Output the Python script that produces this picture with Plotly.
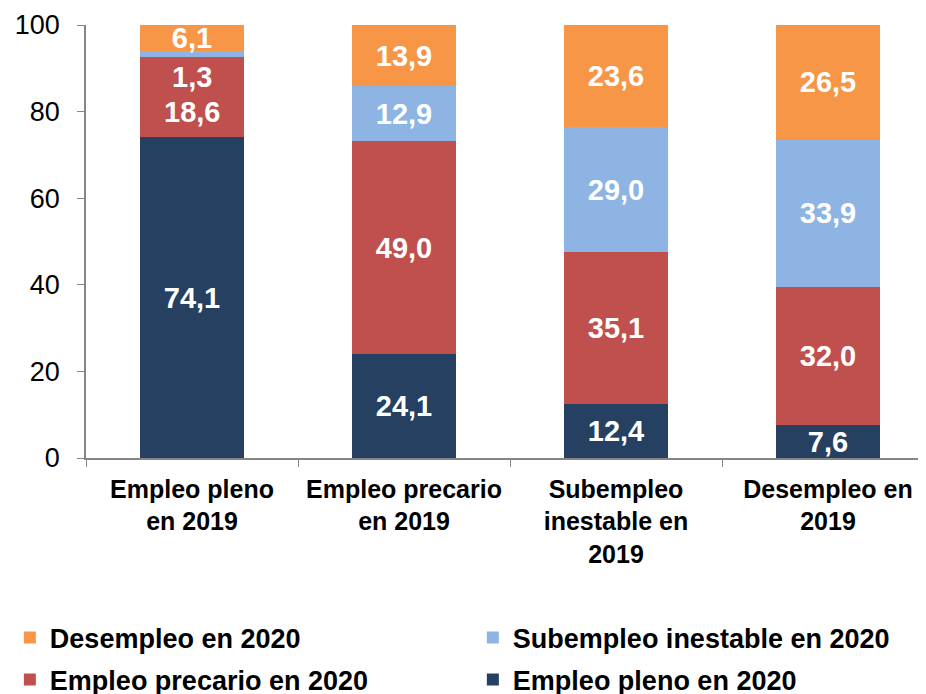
import plotly.graph_objects as go

categories = ["Empleo pleno en 2019", "Empleo precario en 2019",
              "Subempleo inestable en 2019", "Desempleo en 2019"]
tick_labels = ["Empleo pleno<br>en 2019", "Empleo precario<br>en 2019",
               "Subempleo<br>inestable en<br>2019", "Desempleo en<br>2019"]

pleno_2020 = [74.1, 24.1, 12.4, 7.6]
precario_2020 = [18.6, 49.0, 35.1, 32.0]
subempleo_2020 = [1.3, 12.9, 29.0, 33.9]
desempleo_2020 = [6.1, 13.9, 23.6, 26.5]

series = [
    ("Empleo pleno en 2020", pleno_2020, "#254061"),
    ("Empleo precario en 2020", precario_2020, "#C0504D"),
    ("Subempleo inestable en 2020", subempleo_2020, "#8DB4E2"),
    ("Desempleo en 2020", desempleo_2020, "#F79646"),
]

FONT = "Liberation Sans, Arial, sans-serif"


def fmt(v):
    return f"{v:.1f}".replace(".", ",")


# one legend box per entry, laid out as 2 x 2 grid
legend_of = {
    "Desempleo en 2020": ("legend", 0.002, 0.0922),
    "Subempleo inestable en 2020": ("legend2", 0.502, 0.0922),
    "Empleo precario en 2020": ("legend3", 0.002, 0.0317),
    "Empleo pleno en 2020": ("legend4", 0.502, 0.0317),
}

fig = go.Figure()
for name, vals, color in series:
    texts = [fmt(v) for v in vals]
    if name in ("Empleo precario en 2020", "Subempleo inestable en 2020"):
        texts[0] = ""  # placed via annotations below (as in the reference)
    fig.add_trace(go.Bar(
        x=categories, y=vals, name=name, marker_color=color,
        marker_line_width=0, width=0.49,
        text=texts, textposition="inside", insidetextanchor="middle",
        textangle=0,
        textfont=dict(family=FONT, size=29, color="white", weight="bold"),
        legend=legend_of[name][0],
    ))

# special labels for first bar
base_red = pleno_2020[0]
top_red = base_red + precario_2020[0]
fig.add_annotation(x=categories[0], y=(base_red + top_red) / 2, yshift=-15,
                   text=fmt(precario_2020[0]), showarrow=False,
                   font=dict(family=FONT, size=29, color="white", weight="bold"))
fig.add_annotation(x=categories[0], y=top_red, yshift=-20,
                   text=fmt(subempleo_2020[0]), showarrow=False,
                   font=dict(family=FONT, size=29, color="white", weight="bold"))

legend_common = dict(
    orientation="v", xanchor="left", yanchor="middle",
    xref="container", yref="container",
    font=dict(family=FONT, size=27, color="black", weight="bold"),
    bgcolor="rgba(0,0,0,0)",
    itemclick=False, itemdoubleclick=False,
)
legends = {}
for name, (lk, lx, ly) in legend_of.items():
    legends[lk] = dict(legend_common, x=lx, y=ly)

fig.update_layout(
    width=926, height=694,
    margin=dict(l=78, r=0, t=17, b=243.5, autoexpand=False),
    plot_bgcolor="white", paper_bgcolor="white",
    barmode="stack", bargap=0.51,
    showlegend=True,
    uniformtext=dict(minsize=29, mode="show"),
    **legends,
    xaxis=dict(
        type="category", range=[-0.5, 3.5], automargin=False,
        tickmode="array", tickvals=categories, ticktext=tick_labels,
        tickangle=0,
        tickson="boundaries", ticks="outside", ticklen=7, tickcolor="#868686",
        showline=True, linecolor="#868686", linewidth=1.5,
        showgrid=False,
        tickfont=dict(family=FONT, size=25, color="black", weight="bold"),
        ticklabelstandoff=8,
    ),
    yaxis=dict(
        range=[0, 100], tickvals=[0, 20, 40, 60, 80, 100], automargin=False,
        ticks="outside", ticklen=7, tickcolor="#868686",
        showline=True, linecolor="#868686", linewidth=1.5,
        showgrid=False, zeroline=False,
        tickfont=dict(family=FONT, size=27, color="black"),
        ticklabelstandoff=12,
    ),
)

fig.write_html("out.html")
